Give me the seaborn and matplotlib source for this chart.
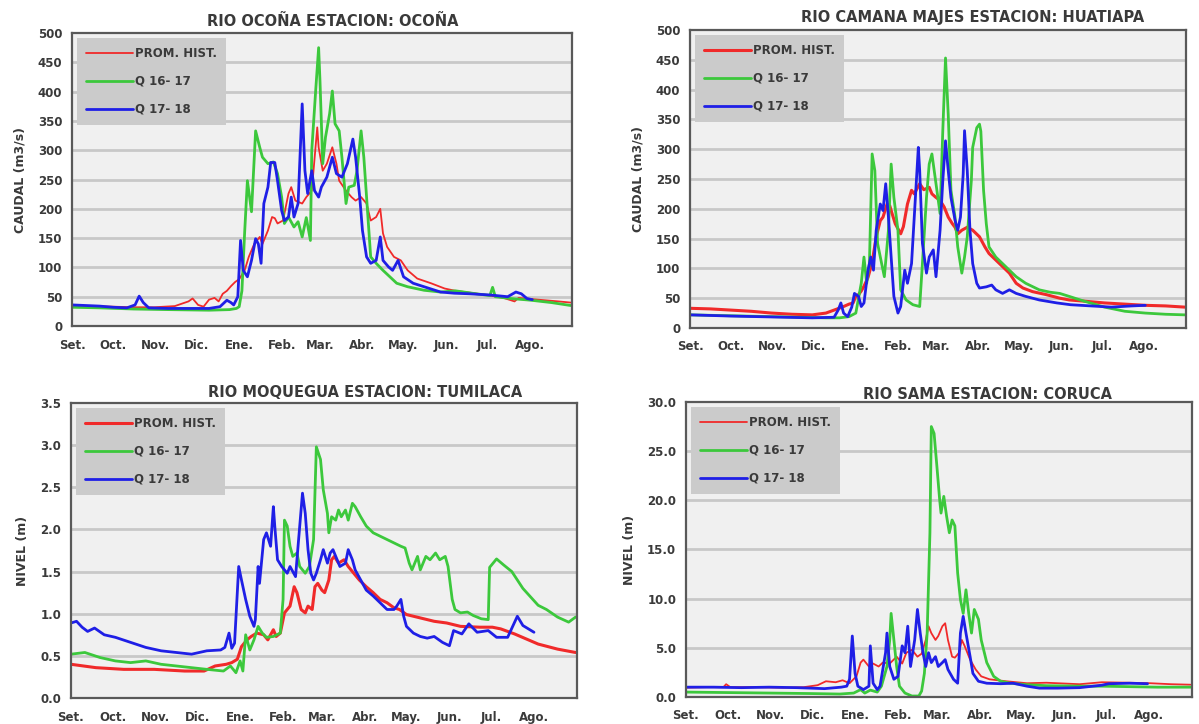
import numpy as np
import pandas as pd
import matplotlib
matplotlib.use("Agg")
import matplotlib.pyplot as plt
import seaborn as sns

# ---------------- data (day of hydrological year, 0 = 1 Sep) ----------------
month_labels = ["Set.", "Oct.", "Nov.", "Dic.", "Ene.", "Feb.", "Mar.", "Abr.",
                "May.", "Jun.", "Jul.", "Ago."]
month_start_day = [0, 30, 61, 91, 122, 153, 181, 212, 242, 273, 303, 334, 365]
legend_labels = ["PROM. HIST.", "Q 16- 17", "Q 17- 18"]

titles = ["RIO OCOÑA ESTACION: OCOÑA", "RIO CAMANA MAJES ESTACION: HUATIAPA",
          "RIO MOQUEGUA ESTACION: TUMILACA", "RIO SAMA ESTACION: CORUCA"]
ylabels = ["CAUDAL (m3/s)", "CAUDAL (m3/s)", "NIVEL (m)", "NIVEL (m)"]

# --- Rio Ocoña ---
oco_hist_day = [0, 15, 30, 45, 60, 75, 85, 88, 92, 96, 100, 104, 107, 110, 113, 116, 119,
                122, 126, 129, 133, 137, 139, 143, 146, 148, 150, 154, 158, 160, 163, 168, 171,
                175, 179, 180, 183, 186, 190, 193, 195, 200, 204, 207, 211, 215, 218, 222, 225,
                227, 230, 235, 240, 245, 252, 262, 272, 280, 290, 305, 315, 323, 326, 340, 355, 364]
oco_hist = [35, 34, 33, 32, 32, 34, 42, 47, 36, 33, 45, 48, 42, 55, 60, 68, 75,
            80, 95, 118, 140, 152, 140, 163, 186, 184, 175, 180, 226, 237, 214, 209, 220,
            231, 339, 305, 265, 277, 305, 277, 248, 231, 220, 214, 220, 209, 180, 186, 200,
            158, 135, 118, 112, 95, 81, 73, 64, 60, 57, 52, 48, 42, 48, 45, 42, 40]
oco_q1617_day = [0, 20, 45, 70, 100, 115, 120, 122, 124, 126, 128, 131, 134, 137, 139, 143,
                 147, 150, 153, 155, 158, 162, 165, 168, 171, 174, 175, 178, 180, 181, 183,
                 185, 188, 190, 192, 195, 197, 200, 202, 206, 208, 211, 213, 216, 218, 222,
                 227, 232, 237, 245, 257, 269, 280, 295, 305, 307, 309, 320, 335, 350, 364]
oco_q1617 = [32, 31, 29, 28, 27, 28, 30, 33, 60, 160, 248, 195, 333, 305, 288, 277,
             280, 260, 220, 175, 186, 169, 178, 152, 185, 146, 300, 407, 475, 418, 277,
             322, 362, 401, 345, 333, 288, 209, 237, 240, 265, 333, 288, 186, 118, 107,
             95, 84, 73, 67, 61, 58, 60, 55, 52, 66, 50, 47, 44, 40, 35]
oco_q1718_day = [0, 10, 20, 30, 40, 46, 49, 52, 56, 70, 85, 100, 108, 113, 116, 118, 121,
                 123, 125, 128, 131, 134, 136, 138, 140, 143, 145, 148, 150, 153, 155, 158,
                 160, 162, 165, 168, 170, 172, 175, 177, 180, 182, 186, 190, 193, 197, 201,
                 205, 207, 210, 212, 215, 218, 222, 225, 227, 231, 234, 238, 242, 249, 257,
                 269, 279, 290, 305, 318, 324, 328, 332, 336]
oco_q1718 = [36, 35, 34, 32, 31, 36, 51, 40, 31, 30, 30, 30, 33, 44, 40, 36, 50,
             146, 95, 84, 112, 149, 140, 107, 209, 237, 279, 279, 248, 197, 180, 186,
             220, 186, 209, 379, 265, 226, 265, 231, 220, 237, 254, 288, 260, 254, 277,
             319, 288, 220, 163, 118, 107, 112, 152, 112, 101, 95, 112, 84, 73, 67,
             58, 56, 55, 53, 50, 58, 55, 47, 45]

# --- Rio Camana Majes ---
hua_hist_day = [0, 15, 30, 45, 60, 75, 90, 100, 106, 112, 117, 120, 122, 124, 126, 128,
                131, 134, 137, 140, 142, 145, 147, 148, 151, 155, 157, 160, 163, 165, 169,
                172, 176, 178, 181, 184, 187, 190, 193, 195, 197, 200, 204, 208, 213, 217,
                220, 225, 230, 235, 240, 245, 252, 262, 272, 279, 290, 305, 320, 335, 350, 364]
hua_hist = [33, 32, 30, 28, 25, 23, 22, 25, 30, 35, 40, 42, 53, 56, 62, 70,
            85, 110, 153, 180, 186, 208, 205, 197, 175, 158, 170, 208, 231, 225, 242,
            232, 236, 225, 219, 214, 203, 186, 175, 169, 158, 164, 169, 164, 153, 136,
            125, 114, 103, 92, 75, 67, 61, 56, 50, 47, 45, 42, 40, 38, 37, 35]
hua_q1617_day = [0, 20, 40, 60, 80, 100, 110, 117, 122, 126, 128, 130, 132, 134, 136, 138,
                 141, 143, 146, 148, 150, 153, 155, 159, 164, 169, 171, 174, 176, 178, 181,
                 184, 186, 188, 190, 192, 195, 197, 200, 202, 204, 207, 208, 211, 213, 214,
                 216, 218, 220, 225, 230, 235, 240, 247, 257, 265, 272, 279, 290, 305, 320,
                 335, 350, 364]
hua_q1617 = [22, 21, 20, 19, 18, 17, 17, 19, 25, 75, 119, 75, 108, 292, 264, 142,
             108, 86, 164, 275, 219, 164, 64, 47, 39, 36, 108, 219, 275, 292, 242,
             192, 331, 453, 358, 231, 186, 136, 92, 119, 153, 247, 303, 336, 342, 330,
             231, 175, 136, 119, 108, 97, 86, 75, 64, 60, 58, 53, 45, 35, 28,
             25, 23, 22]
hua_q1718_day = [0, 15, 30, 50, 70, 90, 106, 109, 111, 113, 116, 119, 121, 124, 126, 128,
                 131, 133, 135, 137, 140, 142, 144, 146, 148, 150, 153, 155, 158, 160, 163,
                 165, 168, 169, 171, 174, 176, 179, 181, 184, 186, 188, 190, 192, 195, 197,
                 199, 201, 202, 204, 206, 208, 211, 213, 218, 222, 225, 230, 235, 240, 247,
                 257, 270, 280, 295, 310, 325, 335]
hua_q1718 = [22, 21, 20, 19, 18, 17, 18, 30, 42, 25, 19, 35, 58, 53, 36, 42,
             97, 119, 97, 164, 208, 197, 242, 186, 119, 53, 25, 36, 97, 75, 108,
             186, 303, 264, 142, 92, 119, 131, 86, 164, 247, 314, 264, 219, 181, 164,
             186, 258, 331, 264, 164, 108, 75, 67, 69, 72, 64, 58, 64, 58, 53,
             47, 42, 39, 37, 35, 37, 38]

# --- Rio Moquegua ---
tum_hist_day = [0, 18, 38, 60, 82, 96, 104, 112, 116, 120, 123, 127, 130, 134, 139, 142,
                146, 148, 151, 154, 158, 161, 163, 166, 169, 171, 174, 176, 178, 181, 183,
                186, 188, 190, 193, 197, 200, 204, 208, 213, 218, 223, 228, 233, 237, 242,
                247, 252, 262, 271, 281, 295, 304, 310, 320, 337, 351, 364]
tum_hist = [0.40, 0.36, 0.34, 0.34, 0.32, 0.32, 0.38, 0.40, 0.42, 0.46, 0.61, 0.69, 0.73,
            0.77, 0.75, 0.69, 0.81, 0.73, 0.77, 1.01, 1.09, 1.32, 1.25, 1.05, 1.01, 1.09,
            1.05, 1.32, 1.36, 1.28, 1.25, 1.40, 1.64, 1.68, 1.60, 1.64, 1.56, 1.48, 1.40,
            1.32, 1.25, 1.17, 1.13, 1.07, 1.05, 0.99, 0.97, 0.95, 0.91, 0.89, 0.85, 0.84,
            0.84, 0.82, 0.76, 0.64, 0.58, 0.54]
tum_q1617_day = [0, 10, 21, 32, 43, 54, 65, 76, 87, 98, 110, 115, 119, 122, 124, 126, 129,
                 132, 135, 138, 141, 146, 151, 153, 154, 156, 158, 160, 163, 165, 169, 172,
                 175, 177, 180, 182, 185, 186, 188, 191, 193, 195, 198, 200, 203, 205, 209,
                 213, 218, 223, 228, 233, 238, 241, 244, 246, 250, 252, 256, 259, 263, 266,
                 270, 272, 275, 277, 281, 286, 290, 296, 301, 302, 307, 312, 318, 326, 337,
                 343, 351, 359, 364]
tum_q1617 = [0.52, 0.54, 0.48, 0.44, 0.42, 0.44, 0.40, 0.38, 0.36, 0.34, 0.32, 0.38, 0.30,
             0.44, 0.32, 0.75, 0.57, 0.69, 0.85, 0.77, 0.72, 0.73, 0.77, 1.17, 2.11, 2.04,
             1.80, 1.68, 1.72, 1.56, 1.48, 1.56, 1.88, 2.98, 2.83, 2.47, 2.19, 1.96, 2.15,
             2.11, 2.23, 2.15, 2.23, 2.11, 2.31, 2.27, 2.15, 2.04, 1.96, 1.92, 1.88, 1.84,
             1.80, 1.78, 1.60, 1.52, 1.68, 1.52, 1.68, 1.64, 1.72, 1.64, 1.68, 1.56, 1.17,
             1.05, 1.01, 1.02, 0.98, 0.94, 0.93, 1.55, 1.65, 1.58, 1.50, 1.30, 1.10, 1.05,
             0.96, 0.90, 0.96]
tum_q1718_day = [0, 4, 8, 12, 17, 24, 32, 43, 54, 65, 76, 87, 98, 108, 111, 114, 116, 118,
                 121, 123, 126, 129, 132, 133, 135, 136, 139, 141, 144, 146, 147, 149, 152,
                 156, 158, 162, 164, 167, 169, 171, 173, 175, 177, 180, 182, 185, 187, 189,
                 192, 194, 198, 200, 203, 205, 209, 213, 218, 223, 228, 233, 235, 238, 240,
                 242, 247, 252, 257, 262, 268, 273, 276, 282, 287, 293, 301, 307, 315, 322,
                 326, 334]
tum_q1718 = [0.89, 0.91, 0.84, 0.79, 0.83, 0.75, 0.72, 0.66, 0.60, 0.56, 0.54, 0.52, 0.56,
             0.57, 0.60, 0.77, 0.59, 0.65, 1.56, 1.40, 1.17, 0.97, 0.85, 0.93, 1.56, 1.36,
             1.88, 1.96, 1.80, 2.27, 2.04, 1.64, 1.56, 1.48, 1.56, 1.44, 1.84, 2.43, 2.19,
             1.76, 1.48, 1.40, 1.48, 1.64, 1.76, 1.60, 1.72, 1.76, 1.64, 1.56, 1.60, 1.76,
             1.64, 1.52, 1.40, 1.28, 1.21, 1.13, 1.05, 1.05, 1.09, 1.17, 0.97, 0.85, 0.77,
             0.73, 0.71, 0.73, 0.66, 0.62, 0.80, 0.76, 0.88, 0.78, 0.80, 0.72, 0.72, 0.97,
             0.86, 0.78]

# --- Rio Sama ---
cor_hist_day = [0, 15, 27, 29, 32, 50, 70, 85, 95, 101, 108, 113, 118, 123, 126, 128, 132,
                135, 139, 142, 147, 152, 156, 159, 163, 167, 170, 173, 175, 177, 180, 182,
                185, 187, 189, 192, 194, 197, 199, 201, 205, 209, 213, 219, 231, 246, 260,
                284, 300, 320, 335, 350, 364]
cor_hist = [0.95, 1.0, 1.0, 1.3, 1.0, 1.0, 0.95, 1.0, 1.2, 1.6, 1.5, 1.7, 1.4, 2.1, 3.5,
            3.8, 3.1, 3.4, 3.1, 3.5, 3.4, 4.1, 3.4, 4.5, 4.8, 4.1, 4.4, 5.8, 7.2, 6.5, 5.8,
            6.2, 7.2, 7.5, 5.8, 4.1, 4.0, 4.5, 5.8, 5.2, 3.8, 2.8, 2.1, 1.8, 1.6, 1.4, 1.45,
            1.3, 1.5, 1.45, 1.4, 1.3, 1.25]
cor_q1617_day = [0, 30, 60, 90, 111, 121, 126, 129, 133, 138, 141, 145, 147, 148, 150, 152,
                 154, 158, 163, 168, 170, 172, 174, 176, 177, 179, 181, 183, 184, 186, 188,
                 190, 192, 194, 196, 198, 200, 202, 204, 206, 208, 211, 213, 217, 222, 227,
                 234, 246, 260, 284, 300, 320, 340, 364]
cor_q1617 = [0.5, 0.45, 0.4, 0.35, 0.3, 0.4, 0.75, 0.4, 0.7, 0.5, 1.1, 3.1, 5.8, 8.5, 5.8,
             3.1, 1.1, 0.4, 0.1, 0.1, 0.6, 2.4, 6.5, 16.7, 27.5, 26.8, 23.5, 20.1, 18.7,
             20.4, 18.4, 16.7, 18.0, 17.4, 12.6, 9.9, 8.5, 10.9, 8.5, 6.5, 8.9, 7.9, 5.8,
             3.5, 2.1, 1.6, 1.4, 1.25, 1.15, 1.1, 1.1, 1.05, 1.0, 1.0]
cor_q1718_day = [0, 20, 40, 60, 80, 100, 112, 116, 118, 120, 122, 124, 128, 132, 133, 135,
                 138, 140, 144, 145, 147, 150, 153, 156, 158, 160, 162, 165, 167, 169, 171,
                 173, 175, 177, 180, 182, 185, 187, 189, 193, 196, 198, 200, 202, 205, 207,
                 211, 217, 227, 236, 246, 255, 268, 284, 300, 305, 320, 333]
cor_q1718 = [1.0, 1.0, 0.95, 1.0, 0.95, 0.85, 1.0, 1.1, 1.8, 6.2, 2.4, 1.1, 0.75, 1.1, 5.2,
             1.4, 0.75, 1.1, 4.5, 6.5, 3.1, 1.8, 2.1, 5.2, 4.5, 7.2, 3.1, 5.8, 8.9, 6.5, 4.5,
             3.1, 4.5, 3.5, 4.1, 3.1, 3.5, 3.8, 2.8, 1.8, 1.4, 6.5, 8.2, 6.5, 4.1, 2.4, 1.6,
             1.4, 1.35, 1.4, 1.1, 0.9, 0.9, 0.95, 1.2, 1.35, 1.4, 1.35]

# ---------------- style ----------------
sns.set_style("white")
plt.rcParams["font.family"] = ["DejaVu Sans"]
plt.rcParams["font.weight"] = "bold"

RED, GREEN, BLUE = "#f02a2a", "#3cc83c", "#1f1fe6"
TXT = "#3a3a3a"

fig = plt.figure(figsize=(11.99, 7.24), dpi=100)

panels = [
    dict(rect=[0.0601, 0.5497, 0.4170, 0.4047], ylim=(0, 500), yticks=np.arange(0, 501, 50),
         fmt="{:.0f}", red_lw=1.3, title_x=0.522, title_pad=5,
         series=[(oco_hist_day, oco_hist), (oco_q1617_day, oco_q1617), (oco_q1718_day, oco_q1718)]),
    dict(rect=[0.5755, 0.5470, 0.4137, 0.4116], ylim=(0, 500), yticks=np.arange(0, 501, 50),
         fmt="{:.0f}", red_lw=2.2, title_x=0.569, title_pad=6,
         series=[(hua_hist_day, hua_hist), (hua_q1617_day, hua_q1617), (hua_q1718_day, hua_q1718)]),
    dict(rect=[0.0592, 0.0359, 0.4220, 0.4075], ylim=(0, 3.5), yticks=np.arange(0, 3.51, 0.5),
         fmt="{:.1f}", red_lw=2.2, title_x=0.581, title_pad=4,
         series=[(tum_hist_day, tum_hist), (tum_q1617_day, tum_q1617), (tum_q1718_day, tum_q1718)]),
    dict(rect=[0.5721, 0.0373, 0.4220, 0.4075], ylim=(0, 30), yticks=np.arange(0, 30.1, 5),
         fmt="{:.1f}", red_lw=1.3, title_x=0.596, title_pad=2,
         series=[(cor_hist_day, cor_hist), (cor_q1617_day, cor_q1617), (cor_q1718_day, cor_q1718)]),
]

for i, p in enumerate(panels):
    ax = fig.add_axes(p["rect"])
    ax.set_facecolor("#f0f0f0")
    ax.set_axisbelow(True)
    for yt in p["yticks"][1:-1]:
        ax.axhline(yt, color="#c8c8c8", lw=2.0, zorder=0)
    colors = [RED, GREEN, BLUE]
    lws = [p["red_lw"], 2.0, 2.0]
    for (d, v), c, lw, lab in zip(p["series"], colors, lws, legend_labels):
        df = pd.DataFrame({"day": d, "val": v})
        sns.lineplot(data=df, x="day", y="val", ax=ax, color=c, lw=lw, label=lab,
                     estimator=None, sort=False)
    ax.set_xlim(0, 365)
    ax.set_ylim(*p["ylim"])
    ax.set_yticks(p["yticks"])
    ax.set_yticklabels([p["fmt"].format(t) for t in p["yticks"]], fontsize=8.5,
                       fontweight="bold", color=TXT)
    ax.set_xticks(month_start_day)
    ax.set_xticklabels(month_labels + [""], fontsize=8.5, fontweight="bold", color=TXT)
    ax.tick_params(axis="x", length=4, width=1, color="#555555", direction="out", pad=5)
    ax.tick_params(axis="y", length=0, pad=7)
    ax.set_xlabel("")
    ax.set_ylabel(ylabels[i], fontsize=9, fontweight="bold", color=TXT, labelpad=8)
    for s in ax.spines.values():
        s.set_visible(True)
        s.set_color("#595959")
        s.set_linewidth(1.6)
    ax.set_title(titles[i], fontsize=10.5, fontweight="bold", color=TXT,
                 x=p["title_x"], pad=p["title_pad"])
    leg = ax.legend(loc="upper left", frameon=True, fancybox=False, framealpha=1,
                    facecolor="#cbcbcb", edgecolor="#cbcbcb", fontsize=8.5,
                    handlelength=4.0, handletextpad=0.1, labelspacing=1.25,
                    borderpad=0.8, borderaxespad=0.4)
    for t in leg.get_texts():
        t.set_fontweight("bold")
        t.set_color(TXT)
    leg.get_frame().set_linewidth(0)

fig.savefig("out.png", dpi=100)
